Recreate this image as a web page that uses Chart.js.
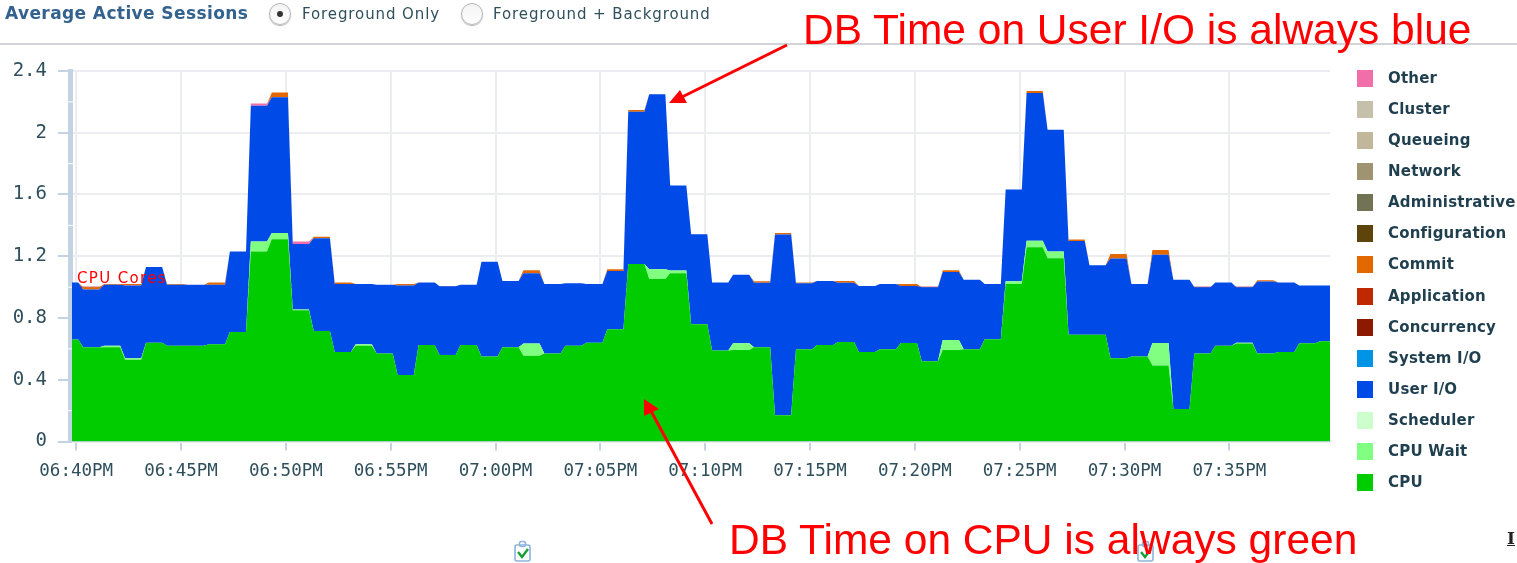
<!DOCTYPE html>
<html>
<head>
<meta charset="utf-8">
<title>Average Active Sessions</title>
<script src="https://cdn.jsdelivr.net/npm/chart.js@4/dist/chart.umd.min.js"></script>
<style>
  html, body { margin: 0; padding: 0; background: #fff; overflow: hidden; }
  #page { position: relative; width: 1517px; height: 563px; overflow: hidden; }
  #page canvas { position: absolute; left: 0; top: 0; }
  .abs { position: absolute; white-space: nowrap; }
  #title { left: 5px; top: 2px; font: bold 17px "DejaVu Sans"; line-height: 22px; color: #33628f; letter-spacing: 0.4px; }
  .radio { width: 20px; height: 20px; top: 3px; border: 1px solid #b4b4b4; border-radius: 50%; background: linear-gradient(#f4f4f4, #fff); box-shadow: 0 1px 1px #bbb; }
  .radio b { position: absolute; left: 7px; top: 7px; width: 6px; height: 6px; border-radius: 50%; background: #333; }
  .radioLabel { top: 4px; font: 15px "DejaVu Sans"; line-height: 20px; color: #2f4f5c; letter-spacing: 0.9px; }
  #rule { left: 0; top: 43px; width: 1517px; height: 2px; background: #d3d3da; }
  .note { font: 42.5px "Liberation Sans"; line-height: 44px; color: #f00; z-index: 2; }
  .legendRow { left: 1357px; height: 17px; }
  .legendRow i { position: absolute; left: 0; top: 0; width: 16px; height: 17px; }
  .legendRow span { position: absolute; left: 31px; top: -1px; font: bold 15px "DejaVu Sans"; line-height: 19px; color: #1f3f4f; letter-spacing: 0.2px; }
  #cut { left: 1507px; top: 527px; font: bold 17px "DejaVu Serif"; line-height: 22px; color: #222; text-decoration: underline; }
  svg { position: absolute; left: 0; top: 0; }
</style>
</head>
<body>
<div id="page">
  <canvas id="sessionsChart" width="1517" height="563"></canvas>
  <div class="abs" id="title">Average Active Sessions</div>
  <div class="abs radio" style="left:269px"><b></b></div>
  <div class="abs radioLabel" style="left:302px">Foreground Only</div>
  <div class="abs radio" style="left:461px"></div>
  <div class="abs radioLabel" style="left:493px">Foreground + Background</div>
  <div class="abs" id="rule"></div>
  <div class="abs note" style="left:803px;top:8px">DB Time on User I/O is always blue</div>
  <div class="abs note" style="left:729px;top:518px">DB Time on CPU is always green</div>
  <div class="abs" id="cut">I</div>
  <div id="legendBox"></div>
  <svg width="1517" height="563">
    <line x1="787" y1="45" x2="680" y2="98" stroke="#f00" stroke-width="3"/>
    <polygon points="669,103 680,90 687,103" fill="#f00"/>
    <line x1="712" y1="524" x2="651" y2="411" stroke="#f00" stroke-width="3"/>
    <polygon points="644,399 644,416 659,409" fill="#f00"/>
    <g fill="none" stroke="#8db4dc" stroke-width="1.6">
      <rect x="515" y="545" width="15" height="16" rx="2"/>
      <rect x="519.5" y="541.5" width="6" height="5" rx="2"/>
      <rect x="1138" y="545" width="15" height="16" rx="2"/>
      <rect x="1142.5" y="541.5" width="6" height="5" rx="2"/>
    </g>
    <g fill="none" stroke="#18a038" stroke-width="2.4">
      <polyline points="518,552 522,557 528,549"/>
      <polyline points="1141,552 1145,557 1151,549"/>
    </g>
  </svg>
</div>
<script>
'use strict';

// one value per minute, first one is the partial sample before 06:40
var cpuValues = [.66, .61, .61, .53, .64, .62, .62, .63, .71, 1.23, 1.31, .85, .715, .58, .62, .57, .43, .625, .56, .625,
  .55, .61, .555, .57, .62, .64, .727, 1.15, 1.053, 1.09, .76, .59, .593, .61, .17, .597, .625, .645, .58, .597,
  .638, .52, .593, .597, .662, 1.02, 1.258, 1.187, .692, .692, .54, .55, .492, .21, .57, .62, .635, .57, .58, .637, .65];
var cpuWaitValues = [0, 0, .01, .01, 0, 0, 0, 0, 0, .065, .04, .005, 0, 0, .01, 0, 0, 0, 0, 0,
  0, 0, .08, 0, 0, 0, 0, 0, .063, .017, 0, 0, .044, 0, 0, 0, 0, 0, 0, 0,
  0, 0, .065, 0, 0, .018, .042, .043, 0, 0, 0, 0, .146, 0, 0, 0, .005, 0, 0, 0, 0];
var userIoValues = [.37, .375, .395, .47, .49, .395, .395, .385, .52, .88, .88, .425, .602, .44, .39, .445, .58, .405, .445, .39,
  .615, .43, .455, .45, .405, .38, .377, .986, 1.134, .551, .583, .44, .443, .418, 1.171, .428, .415, .383, .428, .423,
  .37, .48, .44, .451, .358, .594, .957, .79, .606, .45, .645, .47, .572, .838, .43, .41, .36, .467, .45, .373, .36];
var commitValues = [0, .015, .005, .01, 0, .005, 0, .015, 0, 0, .03, 0, .01, .01, 0, 0, .01, 0, 0, 0,
  0, 0, .02, 0, 0, 0, .012, .012, 0, 0, 0, 0, 0, .01, .01, .005, 0, .012, 0, 0,
  .012, 0, .012, 0, 0, 0, .013, 0, .01, 0, .03, 0, .03, 0, 0, 0, 0, .008, 0, 0, 0];
var otherValues = [0, 0, 0, 0, 0, 0, 0, 0, 0, .015, 0, .015, 0, 0, 0, 0, 0, 0, 0, 0,
  0, 0, 0, 0, 0, 0, 0, 0, 0, 0, 0, 0, 0, 0, 0, 0, 0, 0, 0, 0,
  0, 0, 0, 0, 0, 0, 0, 0, 0, 0, 0, 0, 0, 0, 0, 0, 0, 0, 0, 0, 0];
var cpuCores = 1;

var seriesNames = ['CPU', 'CPU Wait', 'Scheduler', 'User I/O', 'System I/O', 'Concurrency', 'Application', 'Commit',
  'Configuration', 'Administrative', 'Network', 'Queueing', 'Cluster', 'Other'];
var seriesColors = ['#00cc00', '#80ff80', '#ccffcc', '#004ae7', '#0094e7', '#8b1a00', '#c02800', '#e46800',
  '#5c440b', '#717354', '#9f9371', '#c2b79b', '#c5c0a9', '#f06eaa'];
// waits that never show up in this window have no values
var seriesValues = [cpuValues, cpuWaitValues, [], userIoValues, [], [], [], commitValues, [], [], [], [], [], otherValues];

var yTicks = [0, 0.4, 0.8, 1.2, 1.6, 2, 2.4];
var xTickMinutes = [0, 5, 10, 15, 20, 25, 30, 35, 40, 45, 50, 55];
var xTickLabels = ['06:40PM', '06:45PM', '06:50PM', '06:55PM', '07:00PM', '07:05PM', '07:10PM', '07:15PM', '07:20PM',
  '07:25PM', '07:30PM', '07:35PM'];

var monoFont = '"DejaVu Sans Mono"';
var axisColor = '#c3d3e3';
var gridColor = '#ebedf1';

// every sample is a flat plateau followed by a short ramp to the next one
function plateaus(values) {
  var points = [];
  values.forEach(function(v, i) {
    points.push({ x: i - 1 + 0.33, y: v });
    points.push({ x: i - 1 + 1.1, y: v });
  });
  return points;
}

var lastFilled = -1;
var datasets = seriesNames.map(function(name, i) {
  var hasData = seriesValues[i].length > 0;
  var fill = false;
  if (hasData) {
    fill = lastFilled < 0 ? 'origin' : { target: lastFilled };
    lastFilled = i;
  }
  return {
    label: name,
    data: plateaus(seriesValues[i]),
    backgroundColor: seriesColors[i],
    borderColor: seriesColors[i],
    borderWidth: 0,
    pointRadius: 0,
    tension: 0,
    fill: fill
  };
});

// CPU cores reference, on its own stack so it stays at the core count
datasets.push({
  label: 'CPU Cores',
  stack: 'cores',
  data: [{ x: -0.2, y: cpuCores }, { x: 59.8, y: cpuCores }],
  borderColor: 'rgba(170, 25, 40, 0.85)',
  borderWidth: 1,
  pointRadius: 0,
  fill: false
});

var chartExtras = {
  id: 'chartExtras',
  beforeDatasetsDraw: function(chart) {
    // thick axis bar with small breaks halfway between labels
    var ctx = chart.ctx;
    var y = chart.scales.y;
    ctx.save();
    ctx.fillStyle = axisColor;
    ctx.fillRect(68, y.top - 2, 5, y.bottom - y.top + 2);
    ctx.fillStyle = '#fff';
    yTicks.slice(1).forEach(function(t) {
      ctx.fillRect(68, y.getPixelForValue(t - 0.2) - 0.5, 5, 1);
    });
    ctx.restore();
  },
  afterDatasetsDraw: function(chart) {
    var ctx = chart.ctx;
    var y = chart.scales.y;
    ctx.save();
    ctx.font = '15px "DejaVu Sans"';
    ctx.letterSpacing = '1.35px';
    ctx.fillStyle = '#f00';
    ctx.textBaseline = 'alphabetic';
    ctx.fillText('CPU Cores', 77, y.getPixelForValue(cpuCores) - 4);
    ctx.restore();
  }
};

var chart = new Chart(document.getElementById('sessionsChart'), {
  type: 'line',
  data: { datasets: datasets },
  plugins: [chartExtras],
  options: {
    responsive: false,
    animation: false,
    layout: { padding: { left: 0, top: 71, right: 187, bottom: 0 } },
    plugins: {
      legend: { display: false },
      tooltip: { enabled: false }
    },
    scales: {
      x: {
        type: 'linear',
        min: -0.2,
        max: 59.8,
        afterFit: function(scale) { scale.height = 121.5; },
        afterBuildTicks: function(scale) {
          scale.ticks = xTickMinutes.map(function(m) { return { value: m }; });
        },
        grid: { color: gridColor, lineWidth: 2, tickColor: axisColor, tickLength: 9 },
        border: { color: axisColor, width: 1 },
        ticks: {
          autoSkip: false,
          maxRotation: 0,
          padding: 10,
          color: '#2f4f5c',
          font: { family: monoFont, size: 17.5 },
          callback: function(v) { return xTickLabels[xTickMinutes.indexOf(v)]; }
        }
      },
      y: {
        stacked: true,
        min: 0,
        max: 2.4,
        afterFit: function(scale) { scale.width = 72; },
        afterBuildTicks: function(scale) {
          scale.ticks = yTicks.map(function(v) { return { value: v }; });
        },
        grid: { color: gridColor, lineWidth: 2, tickColor: axisColor, tickLength: 14 },
        border: { display: false },
        ticks: {
          padding: 11,
          color: '#2f4f5c',
          font: { family: monoFont, size: 19 },
          callback: function(v) { return String(v); }
        }
      }
    }
  }
});

// legend runs top down, Other first, 31px apart
var legendBox = document.getElementById('legendBox');
seriesNames.slice().reverse().forEach(function(name, i) {
  var row = document.createElement('div');
  row.className = 'abs legendRow';
  row.style.top = (70 + i * 31.08) + 'px';
  row.innerHTML = '<i style="background:' + seriesColors[seriesNames.indexOf(name)] + '"></i><span>' + name + '</span>';
  legendBox.appendChild(row);
});
</script>
</body>
</html>
